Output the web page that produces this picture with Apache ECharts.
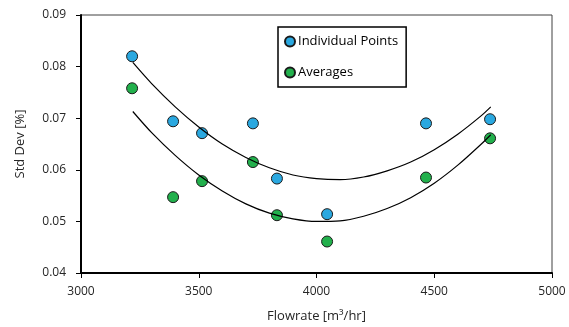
<!DOCTYPE html>
<html>
<head>
<meta charset="utf-8">
<script src="https://cdn.jsdelivr.net/npm/echarts@6/dist/echarts.min.js"></script>
<style>
  html, body { margin: 0; padding: 0; background: #fff; }
  #chart { width: 569px; height: 327px; }
</style>
</head>
<body>
<div id="chart"></div>
<script>
// flowrate of each measurement [m3/hr]
const flowrates = [3217, 3391, 3514, 3730, 3832, 4045, 4465, 4737];
const individualPoints = [0.0820, 0.0694, 0.0671, 0.0690, 0.0583, 0.0514, 0.0690, 0.0698];
const averages = [0.0758, 0.0547, 0.0578, 0.0615, 0.0512, 0.0461, 0.0585, 0.0661];

// trendlines
const trendX = [3220, 3300, 3400, 3500, 3600, 3700, 3800, 3900, 4000, 4100, 4200, 4300, 4400, 4500, 4600, 4700, 4740];
const trendIndividual = [0.0808, 0.0767, 0.0722, 0.0683, 0.0650, 0.0624, 0.0604, 0.0590, 0.0583,
  0.0581, 0.0586, 0.0598, 0.0615, 0.0639, 0.0669, 0.0705, 0.0722];
const trendAverages = [0.0713, 0.0672, 0.0628, 0.0590, 0.0559, 0.0534, 0.0516, 0.0505, 0.0500,
  0.0501, 0.0510, 0.0525, 0.0546, 0.0574, 0.0609, 0.0650, 0.0668];

const font = '"Open Sans", sans-serif';

function pairs(xs, ys) {
  return xs.map((x, i) => [x, ys[i]]);
}

const chart = echarts.init(document.getElementById('chart'));

chart.setOption({
  animation: false,
  textStyle: { fontFamily: font },
  grid: {
    left: 81,
    right: 17,
    top: 15,
    bottom: 54,
    outerBoundsMode: 'none',
    containLabel: false,
    show: true,
    borderColor: '#404040',
    borderWidth: 1
  },
  legend: {
    orient: 'vertical',
    left: 278,
    top: 27,
    data: ['Individual Points', 'Averages'],
    itemWidth: 10,
    itemHeight: 10,
    itemGap: 18,
    padding: [8, 8, 8, 6],
    borderColor: '#000',
    borderWidth: 1.5,
    borderRadius: 0,
    backgroundColor: '#fff',
    icon: 'circle',
    textStyle: { fontFamily: font, fontSize: 13, color: '#000', padding: [0, 0, 0, -2] }
  },
  xAxis: {
    type: 'value',
    min: 3000,
    max: 5000,
    interval: 500,
    name: 'Flowrate [m\u00b3/hr]',
    nameLocation: 'middle',
    nameGap: 37,
    nameTextStyle: { fontFamily: font, fontSize: 13, color: '#262626' },
    splitLine: { show: false },
    axisLine: { show: true, lineStyle: { color: '#000', width: 2 } },
    axisTick: { show: true, inside: false, length: 5, lineStyle: { color: '#000', width: 1 } },
    axisLabel: {
      fontFamily: font,
      fontSize: 12,
      color: '#262626',
      margin: 13,
      formatter: (v) => String(v)
    }
  },
  yAxis: {
    type: 'value',
    min: 0.04,
    max: 0.09,
    interval: 0.01,
    name: 'Std Dev [%]',
    nameLocation: 'middle',
    nameGap: 54,
    nameTextStyle: { fontFamily: font, fontSize: 13, color: '#262626' },
    splitLine: { show: false },
    axisLine: { show: true, lineStyle: { color: '#000', width: 2 } },
    axisTick: { show: true, inside: false, length: 5, lineStyle: { color: '#000', width: 1 } },
    axisLabel: {
      fontFamily: font,
      fontSize: 12,
      color: '#262626',
      margin: 15,
      formatter: (v) => v.toFixed(2)
    }
  },
  series: [
    {
      name: 'Individual Points',
      type: 'scatter',
      symbol: 'circle',
      symbolSize: 11,
      data: pairs(flowrates, individualPoints),
      itemStyle: { color: '#2aa8e0', borderColor: '#1a1a1a', borderWidth: 1, opacity: 1 }
    },
    {
      name: 'Averages',
      type: 'scatter',
      symbol: 'circle',
      symbolSize: 11,
      data: pairs(flowrates, averages),
      itemStyle: { color: '#22b04c', borderColor: '#1a1a1a', borderWidth: 1, opacity: 1 }
    },
    {
      name: 'trend individual',
      type: 'line',
      smooth: 0.3,
      showSymbol: false,
      silent: true,
      data: pairs(trendX, trendIndividual),
      lineStyle: { color: '#000', width: 1.2 }
    },
    {
      name: 'trend averages',
      type: 'line',
      smooth: 0.3,
      showSymbol: false,
      silent: true,
      data: pairs(trendX, trendAverages),
      lineStyle: { color: '#000', width: 1.2 }
    }
  ]
});
</script>
</body>
</html>
